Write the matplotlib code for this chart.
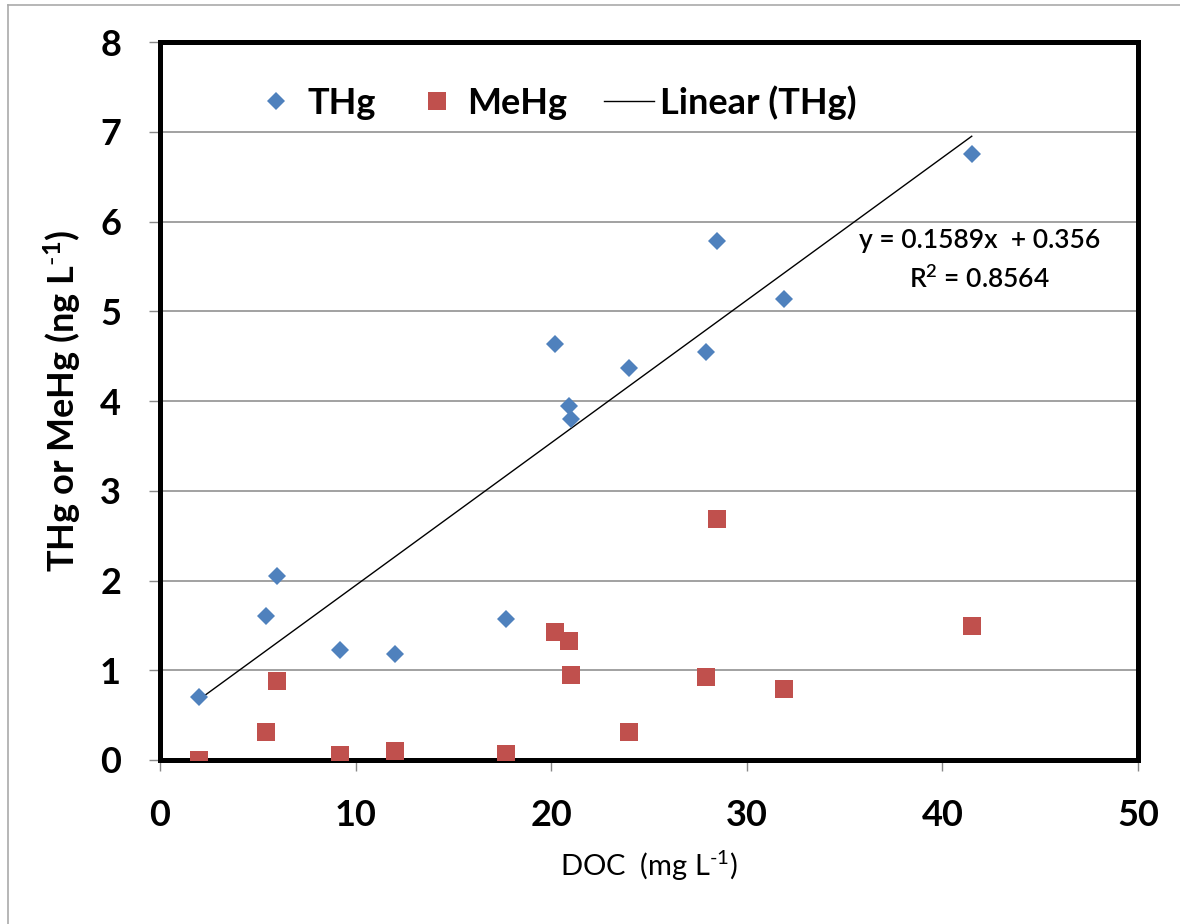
import numpy as np
import matplotlib.pyplot as plt
from matplotlib.lines import Line2D

# DOC concentration for each sample (mg/L)
doc = [2.0, 5.4, 6.0, 9.2, 12.0, 17.7, 20.2, 20.9, 21.0, 24.0, 27.9, 28.5, 31.9, 41.5]
# total and methyl mercury (ng/L)
thg = [0.70, 1.61, 2.05, 1.23, 1.18, 1.57, 4.64, 3.94, 3.80, 4.37, 4.55, 5.78, 5.14, 6.75]
mehg = [0.00, 0.31, 0.88, 0.06, 0.10, 0.07, 1.43, 1.33, 0.95, 0.31, 0.92, 2.69, 0.79, 1.49]

# linear fit reported for THg
slope, intercept = 0.1589, 0.356
r2 = 0.8564

blue = '#4F81BD'
red = '#C0504D'

plt.rcParams['font.family'] = ['Lato', 'DejaVu Sans']
plt.rcParams['mathtext.fontset'] = 'custom'
plt.rcParams['mathtext.rm'] = 'Lato'
plt.rcParams['mathtext.bf'] = 'Lato:bold'
plt.rcParams['mathtext.default'] = 'regular'

fig = plt.figure(figsize=(11.8, 9.24), dpi=100)
ax = fig.add_axes([0.1356, 0.1775, 0.8288, 0.777])

ax.plot(doc, thg, 'D', color=blue, markersize=9.5, markeredgewidth=0, zorder=3)
ax.plot(doc, mehg, 's', color=red, markersize=13.5, markeredgewidth=0, zorder=3)

# trendline over the range of the data
xfit = np.array([min(doc), max(doc)])
ax.plot(xfit, slope * xfit + intercept, color='black', linewidth=1.0, zorder=2)

eq = 'y = %.4fx  + %.3f' % (slope, intercept)
ax.text(41.9, 5.79, eq, ha='center', va='center', fontsize=19, fontweight='semibold')
ax.text(41.9, 5.36, 'R$^{2}$ = %.4f' % r2, ha='center', va='center',
        fontsize=19, fontweight='semibold')

ax.set_xlim(0, 50)
ax.set_ylim(0, 8)
ax.set_xticks(range(0, 51, 10))
ax.set_yticks(range(0, 9))
ax.yaxis.grid(True, color='#888888', linewidth=1.1)
ax.set_axisbelow(True)

for s in ax.spines.values():
    s.set_linewidth(3.6)
    s.set_color('black')

ax.tick_params(axis='both', direction='out', length=8, width=1, color='#888888',
               labelsize=26, pad=20)
for lab in ax.get_xticklabels() + ax.get_yticklabels():
    lab.set_fontweight('bold')

# \text keeps the short hyphen in the exponent
ax.set_xlabel('DOC  (mg L$^{\\text{-1}}$)', fontsize=21, labelpad=12)
ax.set_ylabel('THg or MeHg (ng L$^{\\mathbf{\\text{-}1}}$)', fontsize=26, fontweight='bold',
              labelpad=12)

handles = [
    Line2D([], [], marker='D', color=blue, linestyle='none', markersize=9.5, markeredgewidth=0),
    Line2D([], [], marker='s', color=red, linestyle='none', markersize=13.5, markeredgewidth=0),
    Line2D([], [], color='black', linewidth=1.0),
]
leg = ax.legend(handles, ['THg', 'MeHg', 'Linear (THg)'], ncol=3, frameon=False,
                loc='upper left', bbox_to_anchor=(0.06, 0.985), fontsize=26,
                handlelength=1.4, handletextpad=0.15, columnspacing=1.0)
for t in leg.get_texts():
    t.set_fontweight('bold')

# thin grey page border along the top and left edge
fig.add_artist(Line2D([0.0068, 0.0068], [0, 0.995], transform=fig.transFigure,
                      color='#AAAAAA', linewidth=1.2))
fig.add_artist(Line2D([0.0068, 1], [0.995, 0.995], transform=fig.transFigure,
                      color='#AAAAAA', linewidth=1.2))

fig.savefig('out.png', dpi=100)
